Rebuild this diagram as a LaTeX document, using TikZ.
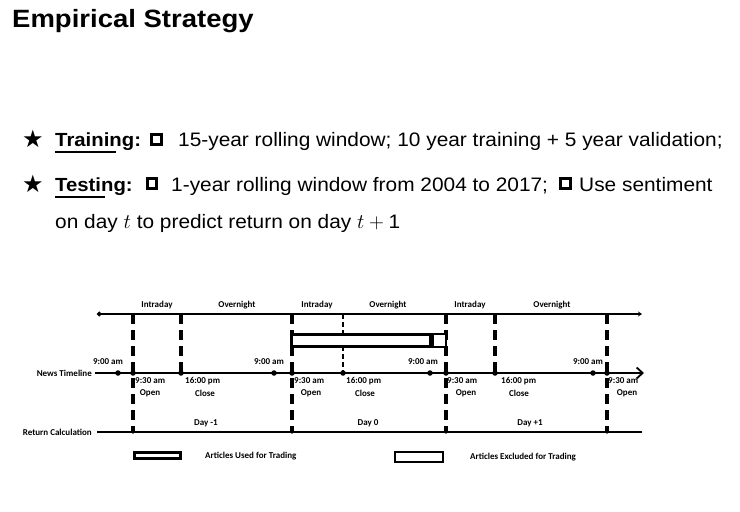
\documentclass[tikz,border=0pt]{standalone}
\usepackage{fontspec}
\setmainfont{Liberation Sans}
\newfontfamily\bodyfont[FakeStretch=1.07]{Liberation Sans}
\newfontfamily\titlefont[FakeStretch=1.1]{Liberation Sans}
\newfontfamily\symfont{DejaVu Sans}
\newfontfamily\labelfont{Carlito}
\usetikzlibrary{arrows.meta}

\begin{document}
\begin{tikzpicture}[x=1pt,y=-1pt,
  titletext/.style={anchor=base west, inner sep=0pt, font=\titlefont\bfseries\fontsize{25}{28}\selectfont},
  bodytext/.style={anchor=base west, inner sep=0pt, font=\bodyfont\fontsize{19.5}{23}\selectfont},
  headword/.style={bodytext, font=\bodyfont\bfseries\fontsize{19}{23}\selectfont},
  bigstar/.style={inner sep=0pt, font=\symfont\fontsize{24}{24}\selectfont},
  sqbox/.style={draw, line width=3pt, minimum size=9.8pt, inner sep=0pt},
  uline/.style={line width=1.8pt},
  axisline/.style={line width=2.5pt},
  dashv/.style={line width=3.5pt, dash pattern=on 10pt off 6pt},
  thinv/.style={line width=1.2pt, dash pattern=on 5pt off 3pt},
  tick/.style={circle, fill, inner sep=0pt, minimum size=5.5pt},
  smalltick/.style={circle, fill, inner sep=0pt, minimum size=3.5pt},
  lbl/.style={inner sep=0pt, font=\labelfont\bfseries\fontsize{9}{10}\selectfont},
  usedbox/.style={draw, line width=3pt, fill=white, inner sep=0pt},
  exclbox/.style={draw, line width=2.4pt, fill=white, inner sep=0pt},
]
\fill[white] (0,0) rectangle (740,512);
\useasboundingbox (0,0) rectangle (740,512);

% ---------- heading ----------
\node[titletext] (title) at (12,27) {Empirical Strategy};

% ---------- bullet list ----------
\node[bigstar] (star1) at (33,139) {★};
\node[headword] (train) at (55,146.5) {Training:};
\draw[uline] ([yshift=-5.5pt]train.base west) -- ++(61,0);
\node[sqbox] (sq1) at (156.5,139.5) {};
\node[bodytext] (trainrest) at (178,146.5) {15-year rolling window; 10 year training + 5 year validation;};

\node[bigstar] (star2) at (33,184) {★};
\node[headword] (test) at (55,191) {Testing:};
\draw[uline] ([yshift=-6pt]test.base west) -- ++(50,0);
\node[sqbox] (sq2) at (152,183.5) {};
\node[bodytext] (testrest) at (171,191) {1-year rolling window from 2004 to 2017;};
\node[sqbox] (sq3) at (565.5,183.5) {};
\node[bodytext] (testrest2) at (579,191) {Use sentiment};
\node[bodytext] (testrest3) at (55,228) {on day $t$ to predict return on day $t+\mbox{1}$};

% ---------- timeline axes ----------
\coordinate (topL) at (97,314);
\coordinate (topR) at (642,314);
\coordinate (newsL) at (95,373);
\coordinate (newsR) at (644,373);
\coordinate (retL) at (97,432);
\coordinate (retR) at (642,432);

\draw[axisline, {Circle[length=4.5pt]}-{Stealth[length=4pt,width=5pt]}] (topL) -- (topR);
\draw[axisline, -{Straight Barb[length=6pt,width=11pt,line width=1.8pt]}] (newsL) -- (newsR);
\draw[axisline] (retL) -- (retR);

% ---------- vertical markers ----------
\foreach \x in {133,292,446,607} {
  \coordinate (t\x) at (\x,314);
  \coordinate (r\x) at (\x,432);
  \draw[dashv] (t\x) -- (r\x);
  \node[smalltick] (rt\x) at (r\x) {};
}
\foreach \x in {181,495} {
  \coordinate (t\x) at (\x,314);
  \coordinate (n\x) at (\x,373);
  \draw[dashv] (t\x) -- (n\x);
}
\coordinate (t343) at (343,314);
\coordinate (n343) at (343,373);
\draw[thinv] (t343) -- (n343);

% event dots on the news timeline
\foreach \x in {118,133,181,274,292,343,430,446,495,593,607} {
  \node[tick] (d\x) at (\x,373) {};
}

% ---------- article window ----------
\node[usedbox, minimum width=139pt, minimum height=12pt] (used) at (361,340.5) {};
\node[exclbox, minimum width=12.6pt, minimum height=12.6pt] (excl) at (439.5,340.5) {};

% ---------- labels ----------
\foreach \x/\t in {157/Intraday,237/Overnight,317/Intraday,388/Overnight,470/Intraday,552/Overnight}
  \node[lbl] (ph\x) at (\x,305.5) {\t};
\foreach \x in {108,269,423,588}
  \node[lbl] (nine\x) at (\x,362) {9:00 am};
\foreach \x in {135,294,447,608}
  \node[lbl, anchor=west] (open\x) at (\x,381) {9:30 am};
\foreach \x in {150,311,466,627}
  \node[lbl] (opentxt\x) at (\x,393.5) {Open};
\foreach \x in {185,346,501}
  \node[lbl, anchor=west] (close\x) at (\x,381) {16:00 pm};
\foreach \x in {205,365,519}
  \node[lbl] (closetxt\x) at (\x,393.5) {Close};
\node[lbl] (dm1) at (206,423) {Day -1};
\node[lbl] (d0) at (368,423) {Day 0};
\node[lbl] (dp1) at (530,423) {Day +1};
\node[lbl, anchor=east] (newslbl) at (92,373) {News Timeline};
\node[lbl, anchor=east] (retlbl) at (92,432) {Return Calculation};

% ---------- legend ----------
\node[usedbox, minimum width=46pt, minimum height=6pt] (legused) at (157,455.5) {};
\node[lbl, anchor=west] (legusedtxt) at (205,456) {Articles Used for Trading};
\node[exclbox, minimum width=48pt, minimum height=10pt] (legexcl) at (419,457) {};
\node[lbl, anchor=west] (legexcltxt) at (470,457) {Articles Excluded for Trading};
\end{tikzpicture}
\end{document}
